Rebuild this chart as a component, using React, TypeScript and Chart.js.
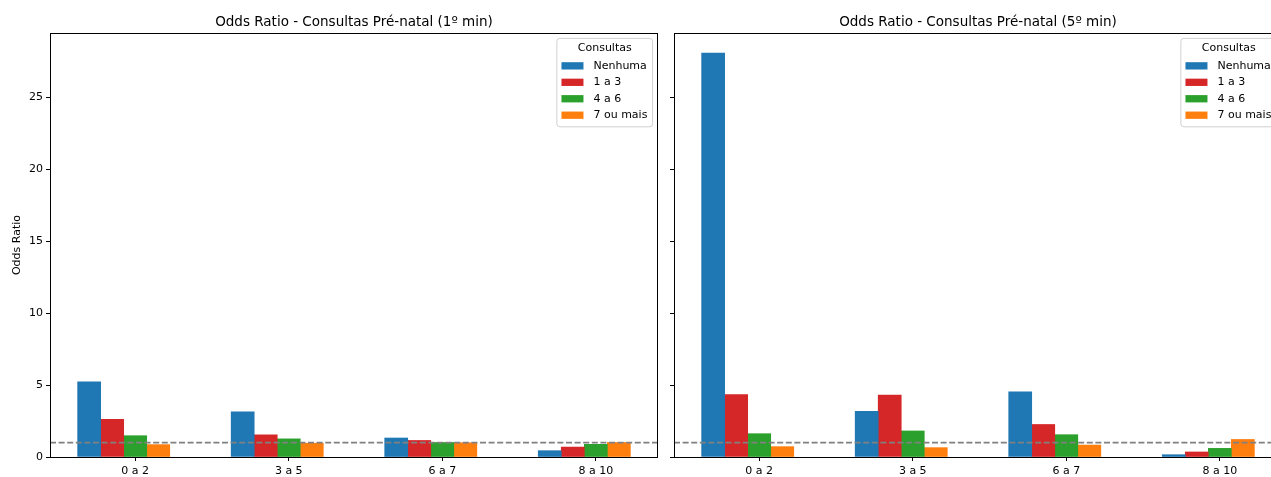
import { useEffect, useRef } from 'react';
import { Chart, registerables } from 'chart.js';

Chart.register(...registerables);

// ---- Data ----
const categories = ['0 a 2', '3 a 5', '6 a 7', '8 a 10'];
const seriesNames = ['Nenhuma', '1 a 3', '4 a 6', '7 ou mais'];
const seriesColors = ['#1f77b4', '#d62728', '#2ca02c', '#ff7f0e'];

const min1Nenhuma = [5.23, 3.14, 1.32, 0.44];
const min1Um3 = [2.62, 1.54, 1.15, 0.69];
const min1Quatro6 = [1.48, 1.26, 1.01, 0.88];
const min1Sete = [0.86, 0.96, 0.99, 1.01];

const min5Nenhuma = [28.06, 3.17, 4.53, 0.16];
const min5Um3 = [4.33, 4.31, 2.26, 0.35];
const min5Quatro6 = [1.62, 1.81, 1.55, 0.6];
const min5Sete = [0.72, 0.65, 0.83, 1.22];

const yTicks = [0, 5, 10, 15, 20, 25];
const REF_VALUE = 1;
const legendTitle = 'Consultas';
const yLabel = 'Odds Ratio';
const title1 = 'Odds Ratio - Consultas Pré-natal (1º min)';
const title5 = 'Odds Ratio - Consultas Pré-natal (5º min)';

const BAR_W = 0.15;
const X_MIN = -0.555;
const X_MAX = 3.405;
const Y_MAX = 29.46;

const FAMILY = '"DejaVu Sans", sans-serif';
const FS = 11;

const refLinePlugin = {
  id: 'refLine',
  afterDatasetsDraw(chart: any) {
    const { ctx, chartArea } = chart;
    const y = chart.scales.y.getPixelForValue(REF_VALUE);
    ctx.save();
    ctx.strokeStyle = '#808080';
    ctx.lineWidth = 1.6;
    ctx.setLineDash([6, 2.6]);
    ctx.beginPath();
    ctx.moveTo(chartArea.left, y);
    ctx.lineTo(chartArea.right, y);
    ctx.stroke();
    ctx.restore();
  },
};

const framePlugin = {
  id: 'frameAndLegend',
  afterDraw(chart: any) {
    const { ctx, chartArea } = chart;
    ctx.save();
    ctx.strokeStyle = '#000';
    ctx.lineWidth = 1;
    ctx.strokeRect(
      Math.round(chartArea.left) + 0.5,
      Math.round(chartArea.top) + 0.5,
      Math.round(chartArea.right) - Math.round(chartArea.left) - 1,
      Math.round(chartArea.bottom) - Math.round(chartArea.top)
    );

    // legend box
    ctx.font = `${FS}px ${FAMILY}`;
    const ds = chart.data.datasets;
    let maxW = 0;
    ds.forEach((d: any) => {
      maxW = Math.max(maxW, ctx.measureText(d.label).width);
    });
    const boxW = 36.6 + maxW + 5.2;
    const boxH = 88.4;
    const right = chartArea.right - 5.4;
    const left = right - boxW;
    const top = chartArea.top + 5.4;
    ctx.fillStyle = 'rgba(255,255,255,0.8)';
    ctx.strokeStyle = '#d0d0d0';
    ctx.lineWidth = 1;
    const r = 3;
    ctx.beginPath();
    ctx.moveTo(left + r, top);
    ctx.lineTo(left + boxW - r, top);
    ctx.arcTo(left + boxW, top, left + boxW, top + r, r);
    ctx.lineTo(left + boxW, top + boxH - r);
    ctx.arcTo(left + boxW, top + boxH, left + boxW - r, top + boxH, r);
    ctx.lineTo(left + r, top + boxH);
    ctx.arcTo(left, top + boxH, left, top + boxH - r, r);
    ctx.lineTo(left, top + r);
    ctx.arcTo(left, top, left + r, top, r);
    ctx.closePath();
    ctx.fill();
    ctx.stroke();

    ctx.fillStyle = '#000';
    ctx.textBaseline = 'middle';
    ctx.textAlign = 'center';
    ctx.fillText(legendTitle, left + boxW / 2, top + 9.9);
    ctx.textAlign = 'left';
    ds.forEach((d: any, i: number) => {
      const cy = top + 27.4 + i * 16.45;
      ctx.fillStyle = d.backgroundColor;
      ctx.fillRect(left + 4.6, cy - 3.6, 22, 7.3);
      ctx.fillStyle = '#000';
      ctx.fillText(d.label, left + 36.6, cy);
    });
    ctx.restore();
  },
};

function OddsChart(props: {
  series: number[][];
  title: string;
  showYLabels: boolean;
  width: number;
  yWidth: number;
}) {
  const ref = useRef<HTMLCanvasElement | null>(null);
  useEffect(() => {
    if (!ref.current) return;
    const font = { family: FAMILY, size: FS };
    const datasets = props.series.map((vals, k) => ({
      type: 'bar' as const,
      label: seriesNames[k],
      backgroundColor: seriesColors[k],
      borderWidth: 0,
      grouped: false,
      categoryPercentage: 1,
      barPercentage: 1,
      data: vals.map((v, i) => ({ x: i + (k - 2) * BAR_W, y: v })),
    }));
    const chart = new Chart(ref.current, {
      type: 'bar',
      data: { datasets },
      options: {
        animation: false,
        responsive: false,
        devicePixelRatio: 1,
        layout: { padding: { left: 0, right: 7, top: 0, bottom: 0 } },
        plugins: {
          legend: { display: false },
          tooltip: { enabled: false },
          title: {
            display: true,
            text: props.title,
            color: '#000',
            fullSize: false,
            font: { family: FAMILY, size: 13.5, weight: 'normal' },
            padding: { top: 14, bottom: 2.8 },
          },
        },
        scales: {
          x: {
            type: 'linear',
            min: X_MIN,
            max: X_MAX,
            offset: false,
            border: { display: false },
            grid: {
              offset: false,
              drawOnChartArea: false,
              drawTicks: true,
              tickLength: 4,
              color: '#000',
            },
            ticks: {
              font,
              color: '#000',
              padding: 3.5,
              autoSkip: false,
              maxRotation: 0,
              includeBounds: false,
              callback: (v: any) => categories[Math.round(Number(v))] ?? '',
            },
            afterBuildTicks: (s: any) => {
              s.ticks = categories.map((_, i) => ({ value: i }));
            },
            afterFit: (s: any) => {
              s.height = 20;
            },
          },
          y: {
            type: 'linear',
            min: 0,
            max: Y_MAX,
            border: { display: false },
            grid: { drawOnChartArea: false, drawTicks: true, tickLength: 4, color: '#000' },
            ticks: {
              display: props.showYLabels,
              font,
              color: '#000',
              padding: 3,
              callback: (v: any) => String(v),
            },
            afterBuildTicks: (s: any) => {
              s.ticks = yTicks.map((v) => ({ value: v }));
            },
            afterFit: (s: any) => {
              s.width = props.yWidth;
            },
            title: {
              display: props.showYLabels,
              text: yLabel,
              color: '#000',
              font,
              padding: { top: 10.9, bottom: 0 },
            },
          },
        },
      } as any,
      plugins: [refLinePlugin, framePlugin],
    });
    return () => chart.destroy();
  }, []);
  return <canvas ref={ref} width={props.width} height={477} style={{ display: 'block' }} />;
}

export default function App() {
  return (
    <div
      style={{
        position: 'fixed',
        left: 0,
        top: 0,
        width: 1271,
        height: 477,
        overflow: 'hidden',
        background: '#fff',
      }}
    >
      <div style={{ position: 'absolute', left: 0, top: 0 }}>
        <OddsChart
          series={[min1Nenhuma, min1Um3, min1Quatro6, min1Sete]}
          title={title1}
          showYLabels={true}
          width={665}
          yWidth={50}
        />
      </div>
      <div style={{ position: 'absolute', left: 660, top: 0 }}>
        <OddsChart
          series={[min5Nenhuma, min5Um3, min5Quatro6, min5Sete]}
          title={title5}
          showYLabels={false}
          width={629}
          yWidth={14}
        />
      </div>
    </div>
  );
}
